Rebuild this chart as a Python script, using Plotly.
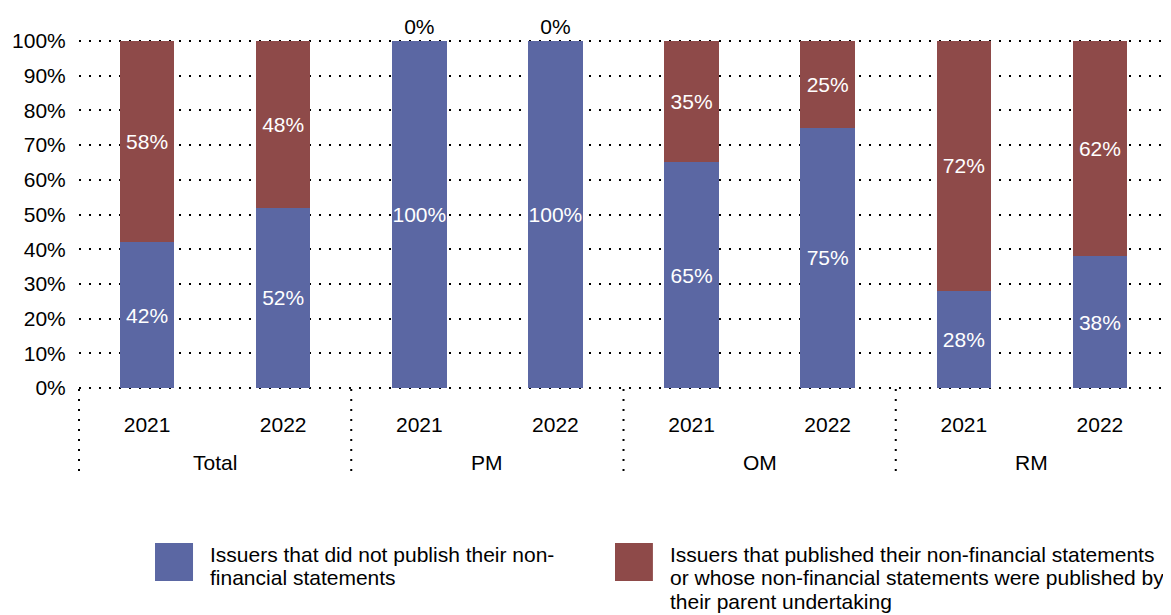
import plotly.graph_objects as go

groups = ["Total", "Total", "PM", "PM", "OM", "OM", "RM", "RM"]
years = ["2021", "2022", "2021", "2022", "2021", "2022", "2021", "2022"]
not_published = [42, 52, 100, 100, 65, 75, 28, 38]
published = [58, 48, 0, 0, 35, 25, 72, 62]
y_ticks = [0, 10, 20, 30, 40, 50, 60, 70, 80, 90, 100]
legend_lines = [
    ["Issuers that did not publish their non-", "financial statements"],
    ["Issuers that published their non-financial statements",
     "or whose non-financial statements were published by",
     "their parent undertaking"],
]
colors = ["#5b67a3", "#8e4a49"]

FONT = "Liberation Sans, Arial, sans-serif"

cats = [f"{g} {y}" for g, y in zip(groups, years)]

fig = go.Figure()
fig.add_trace(go.Bar(
    x=cats, y=not_published, name=" ".join(legend_lines[0]),
    marker=dict(color=colors[0], line=dict(width=0)),
    text=[f"{v}%" for v in not_published], textposition="inside",
    insidetextanchor="middle", textangle=0,
    textfont=dict(color="white", size=21, family=FONT),
    width=0.4, showlegend=False, cliponaxis=False,
))
pos2 = ["outside" if v == 0 else "inside" for v in published]
fig.add_trace(go.Bar(
    x=cats, y=published, name=" ".join(legend_lines[1]),
    marker=dict(color=colors[1], line=dict(width=0)),
    text=[f"{v}%" for v in published], textposition=pos2,
    insidetextanchor="middle", textangle=0,
    insidetextfont=dict(color="white", size=21, family=FONT),
    outsidetextfont=dict(color="black", size=21, family=FONT),
    width=0.4, showlegend=False, cliponaxis=False,
))

# page body has an 8px margin: figure is sized/offset to compensate
fig.update_layout(
    barmode="stack",
    width=1163, height=607,
    margin=dict(l=71, r=3, t=32, b=226),
    plot_bgcolor="white", paper_bgcolor="white",
    font=dict(family=FONT, size=21, color="black"),
)
fig.update_traces(constraintext="none")
fig.update_yaxes(
    range=[-0.3, 100.3], tickvals=y_ticks, ticktext=[f"{v}%" for v in y_ticks],
    showgrid=True, gridcolor="black", gridwidth=2, griddash="2px,8px",
    zeroline=False, showline=False, ticks="outside", ticklen=8,
    tickcolor="rgba(0,0,0,0)", tickfont=dict(size=21), automargin=False,
)
fig.update_xaxes(
    type="category", categoryarray=cats, tickvals=cats, ticktext=years,
    showgrid=False, showline=False, ticks="outside", ticklen=17,
    tickcolor="rgba(0,0,0,0)", tickfont=dict(size=21), automargin=False,
)

# group labels centred under each pair of bars
seen = []
for i, g in enumerate(groups):
    if g not in seen:
        seen.append(g)
        n = groups.count(g)
        fig.add_annotation(xref="x", yref="paper", x=i + (n - 1) / 2, y=-0.212,
                           xanchor="center", yanchor="middle", text=g,
                           showarrow=False, font=dict(size=21, color="black"))

# dotted group separators below the axis
for xp in [0, 0.25, 0.5, 0.75, 1.0]:
    fig.add_shape(type="line", xref="paper", yref="paper", x0=xp, x1=xp,
                  y0=0, y1=-0.25, line=dict(color="black", width=2, dash="2px,8px"))

# custom legend
sq = [(0.0698, 0.1047, 0.1185), (0.4922, 0.527, 0.5409)]
line_y = [-0.4756, -0.5415, -0.6103]
for (x0, x1, xt), lines, c in zip(sq, legend_lines, colors):
    fig.add_shape(type="rect", xref="paper", yref="paper", x0=x0, x1=x1,
                  y0=-0.550, y1=-0.441, fillcolor=c, line=dict(width=0))
    for ln, yy in zip(lines, line_y):
        fig.add_annotation(xref="paper", yref="paper", x=xt, y=yy,
                           xanchor="left", yanchor="middle", align="left",
                           text=ln, showarrow=False,
                           font=dict(size=21, color="black", family=FONT))

fig.write_html("out.html")
